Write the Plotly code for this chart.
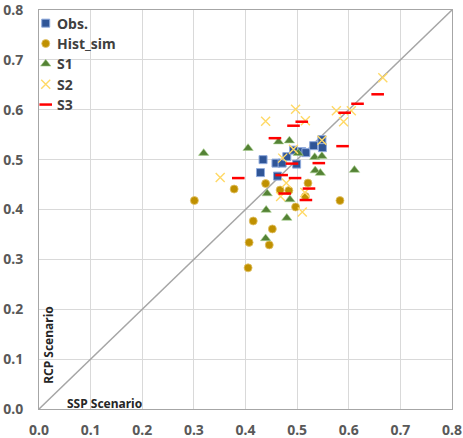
import plotly.graph_objects as go

# Data
obs_x = [0.434, 0.429, 0.459, 0.471, 0.462, 0.480, 0.493, 0.499, 0.509, 0.517, 0.532, 0.548, 0.549]
obs_y = [0.500, 0.474, 0.493, 0.493, 0.467, 0.506, 0.519, 0.491, 0.516, 0.514, 0.528, 0.540, 0.524]

hist_x = [0.301, 0.378, 0.439, 0.467, 0.484, 0.521, 0.516, 0.583, 0.497, 0.415, 0.452, 0.407, 0.446, 0.405]
hist_y = [0.418, 0.441, 0.452, 0.439, 0.438, 0.453, 0.426, 0.418, 0.405, 0.377, 0.361, 0.334, 0.329, 0.283]

s1_x = [0.319, 0.405, 0.464, 0.485, 0.502, 0.534, 0.548, 0.535, 0.545, 0.611, 0.442, 0.486, 0.440, 0.480, 0.439]
s1_y = [0.513, 0.523, 0.536, 0.538, 0.513, 0.505, 0.507, 0.478, 0.473, 0.479, 0.432, 0.420, 0.399, 0.383, 0.342]

s2_x = [0.666, 0.497, 0.439, 0.516, 0.576, 0.605, 0.590, 0.548, 0.493, 0.472, 0.351, 0.479, 0.468, 0.515, 0.510]
s2_y = [0.664, 0.601, 0.577, 0.578, 0.598, 0.598, 0.576, 0.539, 0.521, 0.503, 0.464, 0.453, 0.426, 0.434, 0.395]

s3_x = [0.656, 0.617, 0.592, 0.509, 0.493, 0.457, 0.588, 0.490, 0.542, 0.386, 0.470, 0.496, 0.476, 0.523, 0.517]
s3_y = [0.631, 0.612, 0.594, 0.576, 0.568, 0.543, 0.527, 0.492, 0.493, 0.463, 0.469, 0.463, 0.432, 0.442, 0.419]

diag = [0.0, 0.8]
tick_vals = [0.0, 0.1, 0.2, 0.3, 0.4, 0.5, 0.6, 0.7, 0.8]
tick_text = ["0.0", "0.1", "0.2", "0.3", "0.4", "0.5", "0.6", "0.7", "0.8"]
series_names = ["Obs.", "Hist_sim", "S1", "S2", "S3"]

FONT = "Noto Sans"

styles = [
    dict(symbol="square", size=8, color="#2F5597", line=dict(color="#8FAADC", width=1)),
    dict(symbol="circle", size=8, color="#BF9000", line=dict(color="#E2C36B", width=0.8)),
    dict(symbol="triangle-up", size=9, color="#548235", line=dict(color="#A9D18E", width=0.6)),
    dict(symbol="x-thin", size=9, color="#FFD966", line=dict(color="#FFD966", width=1.4)),
    dict(symbol="line-ew", size=9, color="#FF0000", line=dict(color="#FF0000", width=2.5)),
]
series = [(obs_x, obs_y), (hist_x, hist_y), (s1_x, s1_y), (s2_x, s2_y), (s3_x, s3_y)]

fig = go.Figure()
fig.add_trace(go.Scatter(x=diag, y=diag, mode="lines", line=dict(color="#A6A6A6", width=1.5),
                         showlegend=False, hoverinfo="skip"))
for name, (sx, sy), st in zip(series_names, series, styles):
    fig.add_trace(go.Scatter(x=sx, y=sy, mode="markers", name=name, marker=st, showlegend=False))

# Legend (compact, inside the plot at top-left), drawn on an overlay paper-like axis
leg_x = 0.0163
leg_text_x = 0.038
leg_y0 = 0.967
leg_dy = 0.051
for i, (name, st) in enumerate(zip(series_names, styles)):
    yy = leg_y0 - i * leg_dy
    fig.add_trace(go.Scatter(x=[leg_x], y=[yy], xaxis="x2", yaxis="y2", mode="markers",
                             marker=st, showlegend=False, hoverinfo="skip"))
    fig.add_annotation(text=name, xref="paper", yref="paper", x=leg_text_x, y=yy,
                       xanchor="left", yanchor="middle", showarrow=False,
                       font=dict(family=FONT, size=14, color="#404040", weight="bold"))

axis_common = dict(
    range=[0, 0.8], tickvals=tick_vals, ticktext=tick_text,
    showgrid=True, gridcolor="#D9D9D9", gridwidth=1,
    showline=True, linecolor="#A6A6A6", linewidth=1, mirror=True,
    zeroline=False, ticks="", ticklabeloverflow="allow",
    tickfont=dict(family=FONT, size=14, color="#595959", weight="bold"),
)
fig.update_layout(
    xaxis=dict(**axis_common, ticklabelstandoff=8),
    yaxis=dict(**axis_common, ticklabelstandoff=12),
    xaxis2=dict(range=[0, 1], overlaying="x", visible=False, fixedrange=True),
    yaxis2=dict(range=[0, 1], overlaying="y", visible=False, fixedrange=True),
)

fig.add_annotation(text="SSP Scenario", xref="paper", yref="paper", x=0.158, y=0.0137,
                   xanchor="center", yanchor="middle", showarrow=False,
                   font=dict(family=FONT, size=12, color="#262626", weight="bold"))
fig.add_annotation(text="RCP Scenario", xref="paper", yref="paper", x=0.021, y=0.16,
                   xanchor="center", yanchor="middle", showarrow=False, textangle=-90,
                   font=dict(family=FONT, size=12, color="#262626", weight="bold"))

fig.update_layout(
    width=463, height=438,
    margin=dict(l=39, r=11, t=10, b=29, autoexpand=False),
    plot_bgcolor="white", paper_bgcolor="white",
    showlegend=False,
)

fig.write_html("out.html")
